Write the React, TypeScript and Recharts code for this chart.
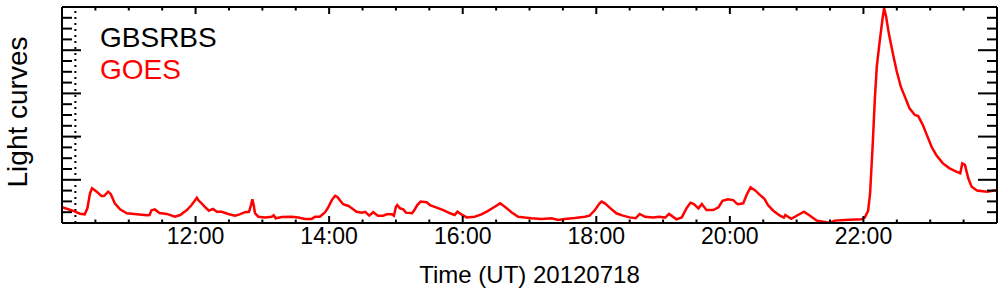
import { LineChart, Line, XAxis, YAxis, ReferenceLine } from 'recharts';

// time in hours UT (2012-07-18), GOES flux normalised so that the flare peak is ~100
const times = [
  10.0, 10.07, 10.17, 10.27, 10.34, 10.38, 10.42, 10.45, 10.52, 10.59, 10.63, 10.69, 10.73, 10.79, 10.87, 10.97, 11.12, 11.27, 11.31, 11.34, 11.39, 11.46, 11.57, 11.69, 11.77, 11.87, 11.94, 12.02,
  12.04, 12.09, 12.14, 12.2, 12.26, 12.32, 12.39, 12.49, 12.59, 12.66, 12.74, 12.8, 12.83, 12.85, 12.87, 12.89, 12.94, 13.04, 13.14, 13.17, 13.2, 13.29, 13.44, 13.54, 13.64, 13.74, 13.79, 13.86, 13.94, 13.99, 14.04,
  14.09, 14.12, 14.16, 14.21, 14.29, 14.34, 14.41, 14.49, 14.54, 14.6, 14.66, 14.73, 14.81, 14.86, 14.94, 14.97, 15.0, 15.02, 15.06, 15.11, 15.15, 15.24, 15.27, 15.32, 15.37, 15.46, 15.51, 15.61, 15.71, 15.81, 15.88, 15.92, 15.98, 16.06,
  16.18, 16.28, 16.38, 16.48, 16.56, 16.63, 16.73, 16.83, 16.93, 17.03, 17.18, 17.33, 17.43, 17.53, 17.68, 17.83, 17.9, 17.98, 18.05, 18.08,
  18.13, 18.2, 18.3, 18.4, 18.5, 18.59, 18.65, 18.73, 18.85, 18.94, 19.03, 19.09, 19.2, 19.28, 19.35, 19.41, 19.46, 19.53, 19.58, 19.65, 19.75, 19.83, 19.89, 19.97, 20.05, 20.1,
  20.12, 20.2, 20.25, 20.31, 20.37, 20.45, 20.52, 20.57, 20.65, 20.75, 20.81, 20.83, 20.92, 21.02, 21.11, 21.2, 21.3, 21.4, 21.49, 21.57, 21.72, 21.97, 22.02, 22.07, 22.1, 22.14, 22.17, 22.2, 22.24, 22.29,
  22.31, 22.34, 22.38, 22.44, 22.5, 22.56, 22.62, 22.69, 22.77, 22.82, 22.89, 22.94, 23.02, 23.09, 23.19, 23.29, 23.39, 23.45, 23.48, 23.52, 23.57, 23.62, 23.7, 23.85, 24.0,
];

const goesFlux = [
  7.3, 6.6, 5.6, 4.3, 4.0, 6.8, 13.8, 16.1, 14.5, 12.5, 12.5, 14.5, 13.4, 9.1, 6.3, 4.5, 4.0, 3.6, 3.7, 5.9, 6.3, 4.6, 4.2, 2.9, 3.7, 6.0, 8.3, 11.7,
  10.6, 9.1, 7.5, 5.7, 6.5, 5.2, 5.2, 4.2, 3.4, 4.0, 5.0, 5.2, 8.3, 11.0, 8.3, 4.5, 2.9, 2.6, 2.9, 3.6, 2.2, 2.8, 2.9, 2.5, 1.9, 1.9, 2.9, 2.9, 5.0, 7.5, 10.6,
  12.6, 12.2, 10.6, 8.7, 7.9, 6.8, 5.2, 4.8, 5.2, 3.4, 5.0, 3.4, 3.4, 4.0, 4.0, 3.4, 7.5, 8.3, 6.8, 6.3, 4.8, 4.5, 5.7, 8.3, 9.9, 9.6, 8.3, 7.1, 6.0, 4.5, 3.7, 5.2, 4.0, 2.6,
  2.9, 4.0, 5.6, 7.5, 9.1, 7.5, 5.0, 2.9, 2.5, 2.2, 1.9, 2.2, 1.4, 1.9, 2.3, 2.9, 3.4, 6.0, 9.1, 9.9,
  9.1, 7.1, 4.5, 3.4, 2.6, 2.2, 4.2, 2.9, 2.5, 2.9, 2.5, 4.2, 1.7, 2.6, 6.8, 9.4, 8.8, 6.8, 8.8, 6.0, 6.0, 7.3, 10.3, 11.0, 10.6, 9.1,
  8.7, 9.1, 13.0, 16.5, 15.3, 13.0, 11.1, 8.3, 5.7, 3.4, 2.5, 3.7, 1.9, 3.7, 5.2, 3.4, 1.1, 0.6, 0.1, 1.1, 1.4, 1.7, 2.5, 5.6, 13.8, 36.9, 56.9, 72.4, 83.2, 95.5,
  99.4, 95.5, 87.8, 78.6, 70.0, 63.1, 58.5, 53.1, 50.0, 49.5, 45.4, 41.5, 35.3, 31.5, 27.6, 25.3, 23.8, 23.0, 27.6, 26.9, 20.7, 16.8, 15.0, 14.5, 15.3,
];

const xTicks = [
  10, 10.5, 11, 11.5, 12, 12.5, 13, 13.5, 14, 14.5, 15, 15.5, 16, 16.5, 17,
  17.5, 18, 18.5, 19, 19.5, 20, 20.5, 21, 21.5, 22, 22.5, 23, 23.5, 24,
];
const xTickLabels: Record<number, string> = {
  12: '12:00', 14: '14:00', 16: '16:00', 18: '18:00', 20: '20:00', 22: '22:00',
};
const yTicks = [0, 5, 10, 15, 20, 25, 30, 35, 40, 45, 50, 55, 60, 65, 70, 75, 80, 85, 90, 95, 100];

const legendNames = ['GBSRBS', 'GOES'];
const legendColors = ['#000000', '#ff0000'];
const markerTime = 10.2;

const xTitle = 'Time (UT) 20120718';
const yTitle = 'Light curves';

const data = times.map((t, i) => ({ t, goes: goesFlux[i] }));

const FONT = '"Liberation Sans", Arial, Helvetica, sans-serif';

function BottomTick(props: any) {
  const { x, y, payload } = props;
  const v = payload.value;
  const len = v % 2 === 0 ? 7 : 3.5;
  const label = xTickLabels[v];
  return (
    <g>
      <line x1={x} x2={x} y1={y} y2={y - len} stroke="#000" strokeWidth={2} />
      {label && (
        <text x={x} y={y + 21} textAnchor="middle" fontSize={23} fontFamily={FONT} fill="#000">
          {label}
        </text>
      )}
    </g>
  );
}

function TopTick(props: any) {
  const { x, y, payload } = props;
  const len = payload.value % 2 === 0 ? 7 : 3.5;
  return <line x1={x} x2={x} y1={y} y2={y + len} stroke="#000" strokeWidth={2} />;
}

function LeftTick(props: any) {
  const { x, y, payload } = props;
  const len = payload.value % 20 === 0 ? 19 : 10;
  return <line x1={x} x2={x + len} y1={y} y2={y} stroke="#000" strokeWidth={2} />;
}

function RightTick(props: any) {
  const { x, y, payload } = props;
  const len = payload.value % 20 === 0 ? 19 : 10;
  return <line x1={x} x2={x - len} y1={y} y2={y} stroke="#000" strokeWidth={2} />;
}

export default function App() {
  const axisLine = { stroke: '#000', strokeWidth: 2 };
  return (
    <div style={{ position: 'absolute', left: 0, top: 0, width: 1004, height: 296, background: '#fff' }}>
      <LineChart width={1004} height={296} data={data} margin={{ top: 6, right: 6, bottom: 0, left: 61 }}>
        <XAxis
          dataKey="t"
          type="number"
          domain={[10, 24]}
          ticks={xTicks}
          interval={0}
          height={73}
          tickSize={0}
          tickMargin={0}
          tickLine={false}
          axisLine={axisLine}
          tick={<BottomTick />}
          allowDataOverflow
        />
        <XAxis
          xAxisId="top"
          orientation="top"
          dataKey="t"
          type="number"
          domain={[10, 24]}
          ticks={xTicks}
          interval={0}
          height={1}
          tickSize={0}
          tickMargin={0}
          tickLine={false}
          axisLine={axisLine}
          tick={<TopTick />}
          allowDataOverflow
        />
        <YAxis
          type="number"
          domain={[0, 100]}
          ticks={yTicks}
          interval={0}
          width={1}
          tickSize={0}
          tickMargin={0}
          tickLine={false}
          axisLine={axisLine}
          tick={<LeftTick />}
          allowDataOverflow
        />
        <YAxis
          yAxisId="right"
          orientation="right"
          type="number"
          domain={[0, 100]}
          ticks={yTicks}
          interval={0}
          width={1}
          tickSize={0}
          tickMargin={0}
          tickLine={false}
          axisLine={axisLine}
          tick={<RightTick />}
          allowDataOverflow
        />
        <ReferenceLine x={markerTime} stroke="#000" strokeWidth={2} strokeDasharray="2 4" />
        <Line
          type="linear"
          dataKey="goes"
          stroke="#ff0000"
          strokeWidth={2.5}
          dot={false}
          isAnimationActive={false}
        />
      </LineChart>
      <svg
        width={1004}
        height={296}
        style={{ position: 'absolute', left: 0, top: 0, pointerEvents: 'none' }}
      >
        {legendNames.map((name, i) => (
          <text key={name} x={100} y={47 + i * 32} fontSize={28} fontFamily={FONT} fill={legendColors[i]}>
            {name}
          </text>
        ))}
        <text x={529.5} y={283} textAnchor="middle" fontSize={24} fontFamily={FONT} fill="#000">
          {xTitle}
        </text>
        <text
          x={27}
          y={112}
          transform="rotate(-90, 27, 112)"
          textAnchor="middle"
          fontSize={28}
          fontFamily={FONT}
          fill="#000"
        >
          {yTitle}
        </text>
      </svg>
    </div>
  );
}
